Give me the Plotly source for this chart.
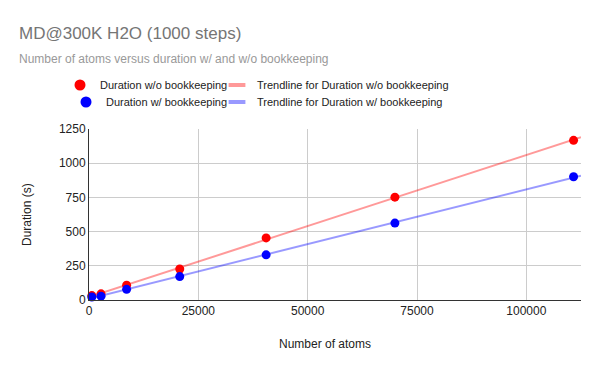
import numpy as np
import plotly.graph_objects as go

atoms = [650, 2750, 8600, 20750, 40500, 69950, 110800]
dur_wo = [32, 45, 108, 227, 454, 752, 1167]
dur_w = [22, 28, 78, 171, 330, 562, 901]

x_range = [0, 112500]
y_ticks = [0, 250, 500, 750, 1000, 1250]
x_ticks = [0, 25000, 50000, 75000, 100000]
x_tick_labels = ["0", "25000", "50000", "75000", "100000"]
y_tick_labels = ["0", "250", "500", "750", "1000", "1250"]

FONT = "Arial, Liberation Sans, sans-serif"
W, H = 600, 371
l, r, t, b = 89, 19, 129, 71
pw, ph = W - l - r, H - t - b


def cx(xp):
    return xp / W


def cy(yp):
    return 1 - yp / H


def px(xp):
    return (xp - l) / pw


def py(yp):
    return (H - b - yp) / ph


def trend(xs, ys):
    k, c = np.polyfit(xs, ys, 1)
    tx = np.array(x_range, dtype=float)
    return tx, k * tx + c


RED, BLUE = "#ff0000", "#0000ff"
RED_T, BLUE_T = "rgba(255,0,0,0.4)", "rgba(0,0,255,0.4)"

fig = go.Figure()
tx, ty = trend(atoms, dur_wo)
tx2, ty2 = trend(atoms, dur_w)
# data traces (legend handled by legend-only entries below)
fig.add_trace(go.Scatter(x=tx, y=ty, mode="lines", line=dict(color=RED_T, width=2),
                         showlegend=False, hoverinfo="skip"))
fig.add_trace(go.Scatter(x=tx2, y=ty2, mode="lines", line=dict(color=BLUE_T, width=2),
                         showlegend=False, hoverinfo="skip"))
fig.add_trace(go.Scatter(x=atoms, y=dur_wo, mode="markers", name="Duration w/o bookkeeping",
                         marker=dict(color=RED, size=9), cliponaxis=False, showlegend=False))
fig.add_trace(go.Scatter(x=atoms, y=dur_w, mode="markers", name="Duration w/ bookkeeping",
                         marker=dict(color=BLUE, size=9), cliponaxis=False, showlegend=False))

# legend entries
fig.add_trace(go.Scatter(x=[None], y=[None], mode="markers", name="Duration w/o bookkeeping",
                         marker=dict(color=RED, size=11), legend="legend"))
fig.add_trace(go.Scatter(x=[None], y=[None], mode="markers",
                         name="Trendline for Duration w/o bookkeeping",
                         marker=dict(symbol="line-ew", size=12, line=dict(color=RED_T, width=4)),
                         legend="legend2"))
fig.add_trace(go.Scatter(x=[None], y=[None], mode="markers", name="Duration w/ bookkeeping",
                         marker=dict(color=BLUE, size=11), legend="legend3"))
fig.add_trace(go.Scatter(x=[None], y=[None], mode="markers",
                         name="Trendline for Duration w/ bookkeeping",
                         marker=dict(symbol="line-ew", size=12, line=dict(color=BLUE_T, width=4)),
                         legend="legend4"))

leg_common = dict(orientation="v", xanchor="left", yanchor="middle", bgcolor="rgba(0,0,0,0)",
                  borderwidth=0, xref="container", yref="container",
                  font=dict(size=11, color="#222222", family=FONT))

axis_title_font = dict(size=12, color="#222222", family=FONT)

fig.update_layout(
    width=W, height=H,
    margin=dict(l=l, r=r, t=t, b=b, autoexpand=False),
    paper_bgcolor="white", plot_bgcolor="white",
    font=dict(family=FONT, size=12, color="#222222"),
    showlegend=True,
    legend=dict(x=cx(100 - 40), y=cy(85), **leg_common),
    legend2=dict(x=cx(257 - 40), y=cy(85), **leg_common),
    legend3=dict(x=cx(106 - 40), y=cy(102), **leg_common),
    legend4=dict(x=cx(257 - 40), y=cy(102), **leg_common),
    xaxis=dict(range=x_range, tickvals=x_ticks, ticktext=x_tick_labels, showgrid=True,
               gridcolor="#cccccc", zeroline=False, showline=True, linecolor="#333333",
               linewidth=1, automargin=False,
               tickfont=dict(size=12, color="#222222")),
    yaxis=dict(range=[0, 1250], tickvals=y_ticks, ticktext=y_tick_labels, showgrid=True,
               gridcolor="#cccccc", zeroline=False, showline=True, linecolor="#333333",
               linewidth=1, automargin=False,
               tickfont=dict(size=12, color="#222222")),
    annotations=[
        dict(text="MD@300K H2O (1000 steps)", x=px(17), y=py(33), xref="paper", yref="paper",
             xanchor="left", yanchor="middle", showarrow=False,
             font=dict(size=17, color="#757575", family=FONT)),
        dict(text="Number of atoms versus duration w/ and w/o bookkeeping", x=px(17), y=py(59),
             xref="paper", yref="paper", xanchor="left", yanchor="middle", showarrow=False,
             font=dict(size=12, color="#999999", family=FONT)),
        dict(text="Number of atoms", x=px(325), y=py(344), xref="paper", yref="paper",
             xanchor="center", yanchor="middle", showarrow=False, font=axis_title_font),
        dict(text="Duration (s)", x=px(27), y=py(215), xref="paper", yref="paper",
             xanchor="center", yanchor="middle", showarrow=False, textangle=-90,
             font=axis_title_font),
    ],
)

fig.write_html("out.html", post_script="document.body.style.margin='0px';",
               config={"displayModeBar": False})
